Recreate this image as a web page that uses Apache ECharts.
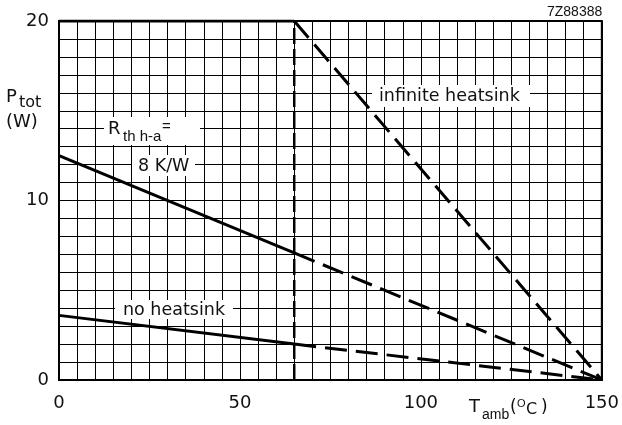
<!DOCTYPE html>
<html><head><meta charset="utf-8">
<script src="https://cdn.jsdelivr.net/npm/echarts@6/dist/echarts.min.js"></script>
<style>html,body{margin:0;padding:0;background:#fff}#c{width:622px;height:425px}</style>
</head><body><div id="c"></div>
<script>
// Data (T_amb in degC, P_tot in W)
const infiniteSolid = [[0, 20], [65, 20]];
const infiniteDashed = [[65, 20], [150, 0]];
const rth8Solid = [[0, 12.5], [65, 7.08]];
const rth8Dashed = [[65, 7.08], [150, 0]];
const noSinkSolid = [[0, 3.6], [65, 2.0]];
const noSinkDashed = [[65, 2.0], [150, 0]];
const limitLine = [[65, 0], [65, 20]];
const xTickLabels = [0, 50, 100, 150];
const yTickLabels = [0, 10, 20];

const DV = 'DejaVu Sans, sans-serif';
const LB = 'Liberation Sans, Arial, sans-serif';
const chart = echarts.init(document.getElementById('c'), null, {renderer: 'canvas'});

function solid(data) {
  return {type: 'line', data, symbol: 'none', silent: true, z: 5,
    lineStyle: {color: '#000', width: 3, type: 'solid'}};
}
function dashed(data) {
  return {type: 'line', data, symbol: 'none', silent: true, z: 5,
    lineStyle: {color: '#000', width: 3, type: [22, 9], cap: 'butt'}};
}
function txt(text, x, y, size, fam) {
  return {type: 'text', z: 110, style: {text, x, y, fill: '#111',
    font: size + 'px ' + (fam || DV), verticalAlign: 'middle', align: 'left'}};
}
function box(x, y, w, h) {
  return {type: 'rect', z: 100, shape: {x, y, width: w, height: h}, style: {fill: '#fff'}};
}

chart.setOption({
  animation: false,
  backgroundColor: '#fff',
  grid: {left: 59, right: 18, top: 21, bottom: 45, show: true, borderColor: '#000', borderWidth: 2},
  xAxis: {
    type: 'value', min: 0, max: 150, interval: 5,
    axisLine: {show: true, lineStyle: {color: '#000', width: 2}},
    axisTick: {show: false},
    splitLine: {show: true, lineStyle: {color: '#000', width: 1}},
    axisLabel: {margin: 14, color: '#111', fontSize: 18, fontFamily: DV,
      showMinLabel: true, showMaxLabel: true,
      formatter: v => xTickLabels.includes(v) ? String(v) : ''}
  },
  yAxis: {
    type: 'value', min: 0, max: 20, interval: 1,
    axisLine: {show: true, lineStyle: {color: '#000', width: 2}},
    axisTick: {show: false},
    splitLine: {show: true, lineStyle: {color: '#000', width: 1}},
    axisLabel: {margin: 10, color: '#111', fontSize: 18, fontFamily: DV,
      showMinLabel: true, showMaxLabel: true,
      formatter: v => yTickLabels.includes(v) ? String(v) : ''}
  },
  series: [
    {type: 'line', data: limitLine, symbol: 'none', silent: true, z: 4,
      lineStyle: {color: '#000', width: 2.5, type: [16, 5], cap: 'butt'}},
    solid(infiniteSolid), dashed(infiniteDashed),
    solid(rth8Solid), dashed(rth8Dashed),
    solid(noSinkSolid), dashed(noSinkDashed)
  ],
  graphic: [
    // annotation boxes
    box(372, 85, 158, 22),
    box(104, 117, 96, 28),
    box(132, 155, 63, 21),
    box(115, 300, 118, 19),
    txt('infinite heatsink', 379, 96, 17.5),
    txt('R', 108, 129, 18),
    txt('th h-a', 123, 137, 15, LB),
    txt('=', 162, 127, 15, LB),
    txt('8 K/W', 138, 166, 17.5),
    txt('no heatsink', 123, 310, 17.5),
    // y axis title
    txt('P', 6, 97, 18),
    txt('tot', 19, 103, 16),
    txt('(W)', 6, 122, 18),
    // x axis title
    txt('T', 469, 407, 18),
    txt('amb', 482, 415, 14, LB),
    txt('(', 510, 408, 17),
    txt('O', 517, 404, 11, LB),
    txt('C', 526, 410, 16),
    txt(')', 541, 408, 17),
    // figure code
    txt('7Z88388', 547, 12, 14, LB)
  ]
});
</script></body></html>
